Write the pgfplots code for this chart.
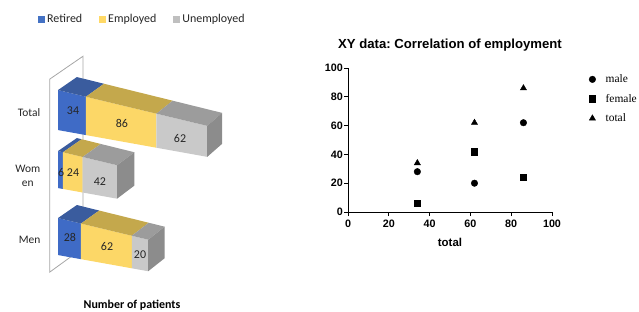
\documentclass[border=0pt]{standalone}
\usepackage{pgfplots}
\pgfplotsset{compat=1.18}
\usepackage{fontspec}
\setmainfont{Carlito}
\newfontfamily\arialfont{Liberation Sans}
\newfontfamily\timesfont{Liberation Serif}
\frenchspacing
\definecolor{bfront}{HTML}{3F6BC6}
\definecolor{btop}{HTML}{3A5C9E}
\definecolor{yfront}{HTML}{FCD767}
\definecolor{ytop}{HTML}{C4A84C}
\definecolor{gfront}{HTML}{C9C9C9}
\definecolor{gtop}{HTML}{9C9C9C}
\definecolor{gside}{HTML}{8C8C8C}
\definecolor{lblue}{HTML}{4472C4}
\definecolor{lyellow}{HTML}{FFD966}
\definecolor{lgray}{HTML}{BFBFBF}
\definecolor{wall}{HTML}{A6A6A6}
% slopes of the top and bottom edges of the front faces, depth offset
\def\ta{0.0031}\def\tb{0.00232}\def\ddy{0.205}
% #1 top at 0, #2 bottom at 0, #3 start, #4 end, #5 front colour, #6 top colour
\newcommand{\seg}[6]{%
\addplot[forget plot, draw=none, fill=#5] coordinates {(#3,{#1-\ta*#3}) (#4,{#1-\ta*#4}) (#4,{#2-\tb*#4}) (#3,{#2-\tb*#3})};
\addplot[forget plot, draw=none, fill=#6] coordinates {(#3,{#1-\ta*#3}) (#4,{#1-\ta*#4}) ({#4+23-0.027*#4},{#1-\ta*#4+\ddy}) ({#3+23-0.027*#3},{#1-\ta*#3+\ddy})};
}
% right side face: #1 top at 0, #2 bottom at 0, #3 end, #4 colour
\newcommand{\side}[4]{%
\addplot[forget plot, draw=none, fill=#4] coordinates {(#3,{#1-\ta*#3}) ({#3+23-0.027*#3},{#1-\ta*#3+\ddy}) ({#3+23-0.027*#3},{#2-\tb*#3+\ddy}) (#3,{#2-\tb*#3})};
}
\begin{document}
\begin{tikzpicture}
\path[use as bounding box] (0,0) rectangle (639bp,312bp);
\begin{axis}[
  at={(49.8bp,37.4bp)}, anchor=south west, scale only axis,
  width=188.6bp, height=219bp,
  xmin=-10, xmax=220, ymin=-0.45, ymax=3,
  axis line style={draw=none}, xtick=\empty,
  ytick={0.1,1.1,2.1}, yticklabels={Men,{Wom\\en},Total},
  major tick length=0pt,
  yticklabel style={align=center, font=\fontsize{11.5}{14}\selectfont, text=black!85, xshift=-6bp},
  clip=false,
  xlabel={Number of patients},
  xlabel style={at={(axis description cs:0.436,-0.157)}, anchor=base, font=\bfseries\fontsize{12}{14}\selectfont},
  legend columns=3,
  legend style={at={(axis description cs:-0.0626,1.167)}, anchor=west, draw=none, inner sep=0pt,
    font=\fontsize{12}{14}\selectfont, text=black!85,
    /tikz/every even column/.append style={column sep=15bp}},
  legend image code/.code={\fill[#1] (0bp,-3.5bp) rectangle (7bp,3.5bp);},
]
\addlegendimage{fill=lblue, draw=none}\addlegendentry{Retired}
\addlegendimage{fill=lyellow, draw=none}\addlegendentry{Employed}
\addlegendimage{fill=lgray, draw=none}\addlegendentry{Unemployed}
% back wall
\addplot[forget plot, draw=wall, line width=0.8pt] coordinates {(30.5,-0.03) (-10,-0.41) (-10,2.63) (30.5,2.99) (30.5,-0.03)};
% Total: 34, 86, 62
\seg{2.457}{1.827}{0}{34}{bfront}{btop}
\seg{2.457}{1.827}{34}{120}{yfront}{ytop}
\seg{2.457}{1.827}{120}{182}{gfront}{gtop}
\side{2.457}{1.827}{182}{gside}
% Women: 6, 24, 42
\seg{1.496}{0.913}{0}{6}{bfront}{btop}
\seg{1.496}{0.913}{6}{30}{yfront}{ytop}
\seg{1.496}{0.913}{30}{72}{gfront}{gtop}
\side{1.496}{0.913}{72}{gside}
% Men: 28, 62, 20
\seg{0.441}{-0.142}{0}{28}{bfront}{btop}
\seg{0.441}{-0.142}{28}{90}{yfront}{ytop}
\seg{0.441}{-0.142}{90}{110}{gfront}{gtop}
\side{0.441}{-0.142}{110}{gside}
\addplot[forget plot, only marks, mark=none, nodes near coords, point meta=explicit symbolic,
  every node near coord/.append style={anchor=center, font=\fontsize{12}{14}\selectfont, text=black!85}]
  table[meta=lab] {
x y lab
18.3 2.126 34
78 1.937 86
148.8 1.701 62
3.7 1.165 6
18.3 1.150 24
51.2 1.008 42
14.6 0.142 28
59.8 0.0 62
100 -0.142 20
};
\end{axis}
\begin{axis}[
  at={(348bp,100bp)}, anchor=south west, scale only axis,
  width=204bp, height=144bp,
  xmin=0, xmax=100, ymin=0, ymax=100,
  axis lines=left, axis line style={-, line width=1pt},
  tick style={line width=1pt, black}, tick align=outside, major tick length=4bp,
  xtick={0,20,...,100}, ytick={0,20,...,100},
  /pgf/number format/assume math mode=true,
  ticklabel style={font=\arialfont\bfseries\fontsize{10.8}{12}\selectfont},
  yticklabel style={inner sep=1pt},
  title={XY data: Correlation of employment},
  title style={at={(axis description cs:0.5,1)}, anchor=center, yshift=17bp, font=\arialfont\bfseries\fontsize{13.2}{15}\selectfont},
  xlabel={total},
  xlabel style={at={(axis description cs:0.5,0)}, anchor=center, yshift=-30bp, font=\arialfont\bfseries\fontsize{11.5}{13}\selectfont},
  legend cell align=left,
  legend style={at={(axis description cs:1.181,0.969)}, anchor=north west, draw=none, inner sep=0pt,
    font=\timesfont\fontsize{11.5}{13}\selectfont, row sep=6bp},
  legend image code/.code={\draw[#1, mark repeat=2, mark phase=2] plot coordinates {(0bp,0bp) (6bp,0bp) (12bp,0bp)}; \path (17bp,0bp);},
  clip=false,
]
\addplot[only marks, mark=*, mark size=3.3pt, black] coordinates {(34,28) (62,20) (86,62)};
\addlegendentry{male}
\addplot[only marks, mark=square*, mark size=3.2pt, black] coordinates {(34,6) (62,42) (86,24)};
\addlegendentry{female}
\addplot[only marks, mark=triangle*, mark size=3.6pt, black] coordinates {(34,34) (62,62) (86,86)};
\addlegendentry{total}
\end{axis}
\end{tikzpicture}
\end{document}
